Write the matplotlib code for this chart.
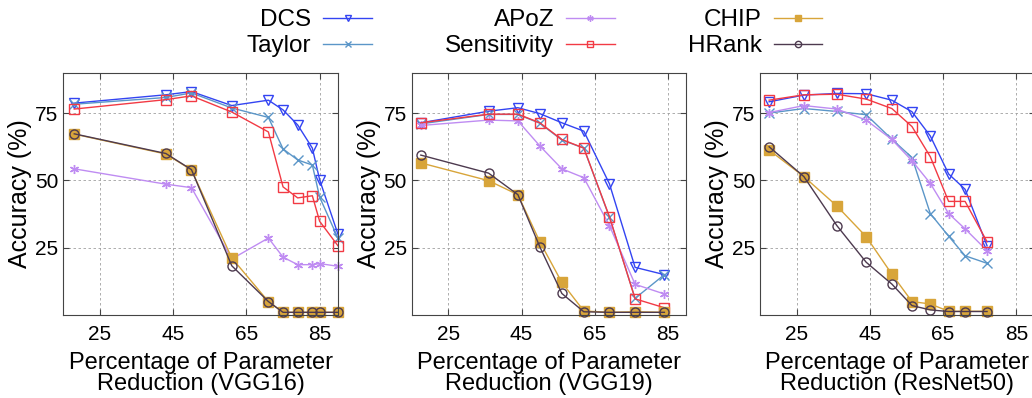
import matplotlib
matplotlib.use("Agg")
from matplotlib import pyplot as plt

plt.rcParams['font.family'] = ['Liberation Sans', 'DejaVu Sans']

methods = ["DCS", "Taylor", "APoZ", "Sensitivity", "CHIP", "HRank"]

# VGG16
vgg16_x = [18, 43, 50, 61, 71, 75, 79, 83, 85, 90]
vgg16 = {
    "DCS": [78.7, 81.8, 83.0, 77.8, 79.8, 76.2, 70.6, 62.0, 50.2, 30.0],
    "Taylor": [78.3, 80.8, 82.5, 76.9, 73.4, 61.7, 57.6, 55.7, 43.8, 28.5],
    "APoZ": [54.3, 48.6, 47.3, 20.8, 28.6, 21.5, 18.7, 18.7, 19.1, 18.1],
    "Sensitivity": [76.5, 80.0, 81.4, 75.4, 68.0, 47.6, 43.5, 44.3, 34.8, 25.7],
    "CHIP": [67.2, 59.8, 53.9, 21.2, 5.0, 1.0, 1.0, 1.0, 1.0, 1.0],
    "HRank": [67.3, 60.0, 54.0, 18.3, 5.0, 1.0, 1.0, 1.0, 1.0, 1.0],
}

# VGG19
vgg19_x = [17.5, 36, 44, 50, 56, 62, 69, 76, 84]
vgg19 = {
    "DCS": [71.4, 75.7, 77.0, 74.8, 71.4, 68.3, 48.7, 17.7, 15.0],
    "Taylor": [71.0, 74.5, 74.5, 71.2, 65.0, 62.0, 36.3, 6.2, 15.0],
    "APoZ": [70.4, 72.4, 72.1, 62.8, 54.3, 51.0, 33.2, 11.4, 7.8],
    "Sensitivity": [71.4, 74.6, 74.6, 71.4, 65.2, 62.0, 36.5, 6.0, 2.7],
    "CHIP": [56.5, 49.9, 44.7, 27.2, 12.1, 1.5, 1.0, 1.2, 1.0],
    "HRank": [59.4, 52.7, 44.7, 25.3, 8.0, 1.2, 1.0, 1.0, 1.0],
}

# ResNet50
resnet50_x = [17.5, 27, 36, 44, 51, 56.5, 61.5, 66.5, 71, 77]
resnet50 = {
    "DCS": [79.2, 81.7, 82.3, 82.2, 79.8, 75.5, 66.5, 52.4, 46.7, 25.7],
    "Taylor": [75.0, 76.7, 75.6, 74.4, 65.3, 58.5, 37.7, 29.3, 22.0, 19.2],
    "APoZ": [75.2, 77.8, 76.5, 72.4, 65.2, 57.3, 48.9, 37.7, 32.0, 23.9],
    "Sensitivity": [79.8, 81.8, 82.0, 80.2, 76.7, 70.0, 58.8, 42.2, 42.2, 27.2],
    "CHIP": [61.3, 51.4, 40.5, 29.1, 15.2, 5.0, 4.1, 1.4, 1.4, 1.4],
    "HRank": [62.5, 51.4, 33.2, 19.6, 11.5, 3.5, 1.9, 1.3, 1.3, 1.3],
}

panels = [("VGG16", vgg16_x, vgg16), ("VGG19", vgg19_x, vgg19),
          ("ResNet50", resnet50_x, resnet50)]

styles = {
    "DCS": dict(color="#3344f2", marker="v", mfc="none"),
    "Taylor": dict(color="#5b96c8", marker="x", mfc="none"),
    "APoZ": dict(color="#bf8cf2", marker=(6, 2, 0), mfc="none"),
    "Sensitivity": dict(color="#f23a44", marker="s", mfc="none"),
    "CHIP": dict(color="#d8a53a", marker="s"),
    "HRank": dict(color="#4d3a4f", marker="o", mfc="none"),
}

fig = plt.figure(figsize=(10.32, 3.98), dpi=100)
lefts = [0.0613, 0.3989, 0.7364]
axes = []
for left, (name, xs, data) in zip(lefts, panels):
    ax = fig.add_axes([left, 0.2085, 0.2662, 0.6088])
    for m in methods:
        st = styles[m]
        ax.plot(xs, data[m], label=m, lw=1, ms=6.5, mew=1,
                clip_on=False, **st)
    ax.set_xlim(15, 90)
    ax.set_ylim(0, 90)
    ax.set_xticks([25, 45, 65, 85])
    ax.set_yticks([25, 50, 75])
    ax.grid(True, color="#a0a0a0", linestyle=(0, (3, 3)), lw=0.6)
    ax.tick_params(direction="in", top=True, right=True, length=4,
                   labelsize=15, color="#444444")
    ax.tick_params(axis="x", pad=7)
    for sp in ax.spines.values():
        sp.set_color("#444444")
    ax.set_xlabel("Percentage of Parameter\nReduction (%s)" % name,
                  fontsize=17, linespacing=0.95, labelpad=6)
    ax.set_ylabel("Accuracy (%)", fontsize=18, labelpad=2)
    axes.append(ax)

handles, labels = axes[0].get_legend_handles_labels()
fig.legend(handles, labels, loc="upper center", bbox_to_anchor=(0.518, 1.013),
           ncol=3, frameon=False, fontsize=17.5, markerfirst=False,
           markerscale=0.7, handlelength=2.0, handletextpad=0.5,
           columnspacing=3.0, labelspacing=0.15, borderpad=0.1)

fig.savefig("out.png", dpi=100)
